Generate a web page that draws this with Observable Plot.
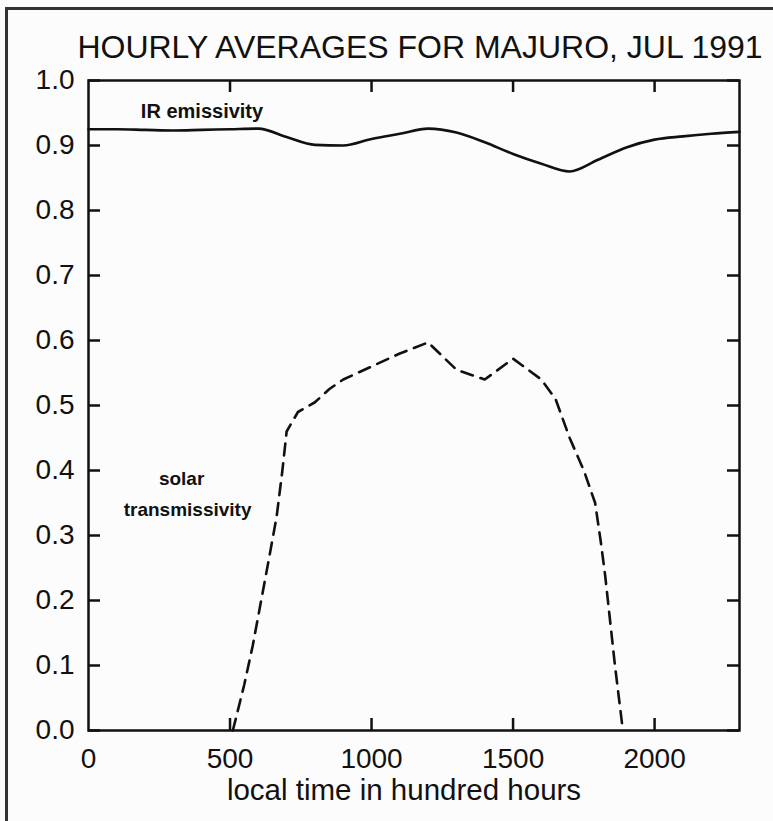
<!DOCTYPE html>
<html><head><meta charset="utf-8">
<script src="https://cdn.jsdelivr.net/npm/d3@7"></script>
<script src="https://cdn.jsdelivr.net/npm/@observablehq/plot@0.6"></script>
<style>
body{margin:0;background:#fcfcfc;}
#wrap{position:relative;width:773px;height:821px;overflow:hidden;}
#box{position:absolute;left:5px;top:7px;width:800px;height:900px;border-left:3px solid #333;border-top:3px solid #333;}
#chart{position:absolute;left:0;top:0;}
</style></head><body>
<div id="wrap"><div id="box"></div><div id="chart"></div></div>
<script>
const titleText = "HOURLY AVERAGES FOR MAJURO, JUL 1991";
const xLabelText = "local time in hundred hours";

// IR emissivity, hourly averages
const irTimes  = [0,100,200,300,400,500,600,700,800,900,1000,1100,1200,1300,1400,1500,1600,1700,1800,1900,2000,2100,2200,2300];
const irValues = [0.925,0.925,0.924,0.923,0.924,0.925,0.926,0.913,0.901,0.900,0.910,0.918,0.926,0.920,0.905,0.887,0.872,0.860,0.878,0.897,0.909,0.914,0.918,0.921];

// solar transmissivity
const solarTimes  = [510,550,580,610,640,665,685,700,740,800,850,900,1000,1100,1200,1300,1400,1500,1600,1650,1700,1750,1790,1810,1825,1840,1860,1888];
const solarValues = [0.0,0.07,0.13,0.20,0.27,0.33,0.40,0.46,0.49,0.505,0.525,0.54,0.56,0.58,0.597,0.555,0.54,0.572,0.54,0.51,0.45,0.40,0.35,0.29,0.24,0.18,0.10,0.0];

const xTickValues = [0,500,1000,1500,2000];
const xInnerTicks = [500,1000,1500,2000];
const yTickValues = [0,0.1,0.2,0.3,0.4,0.5,0.6,0.7,0.8,0.9,1.0];

const ir = irTimes.map((t,i)=>({t, v: irValues[i]}));
const solar = solarTimes.map((t,i)=>({t, v: solarValues[i]}));

const W=773, H=821, mL=88, mR=34, mT=80, mB=91;
const fw = W-mL-mR, fh = H-mT-mB;
const ink = "#111";

const chart = Plot.plot({
  width: W, height: H,
  marginLeft: mL, marginRight: mR, marginTop: mT, marginBottom: mB,
  style: {background: "transparent", fontFamily: "'Liberation Sans', Arial, sans-serif", color: ink},
  x: {domain: [0, 2300]},
  y: {domain: [0, 1]},
  marks: [
    Plot.frame({stroke: ink, strokeWidth: 2.5}),
    Plot.tickY(yTickValues, {y: d=>d, insetRight: fw-12, stroke: ink, strokeWidth: 2.5}),
    Plot.tickY(yTickValues, {y: d=>d, insetLeft: fw-12, stroke: ink, strokeWidth: 2.5}),
    Plot.tickX(xInnerTicks, {x: d=>d, insetBottom: fh-12, stroke: ink, strokeWidth: 2.5}),
    Plot.tickX(xInnerTicks, {x: d=>d, insetTop: fh-12, stroke: ink, strokeWidth: 2.5}),
    Plot.axisY(yTickValues, {tickSize: 0, tickPadding: 14, tickFormat: d3.format(".1f"), fontSize: 28, label: null}),
    Plot.axisX(xTickValues, {tickSize: 0, tickPadding: 18, tickFormat: d=>String(d), fontSize: 28, label: null}),
    Plot.line(ir, {x: "t", y: "v", stroke: ink, strokeWidth: 2.6, curve: "monotone-x"}),
    Plot.line(solar, {x: "t", y: "v", stroke: ink, strokeWidth: 2.6, strokeDasharray: "12,8"}),
    Plot.text(["IR emissivity"], {text: d=>d, x: 185, y: 0.952, textAnchor: "start", fontSize: 20, fontWeight: "bold", fill: ink}),
    Plot.text(["solar"], {text: d=>d, x: 329, y: 0.387, fontSize: 19, fontWeight: "bold", fill: ink}),
    Plot.text(["transmissivity"], {text: d=>d, x: 350, y: 0.340, fontSize: 19, fontWeight: "bold", fill: ink}),
    Plot.text([titleText], {text: d=>d, frameAnchor: "top", lineAnchor: "bottom", dy: -23, dx: 6, fontSize: 32, fill: ink}),
    Plot.text([xLabelText], {text: d=>d, frameAnchor: "bottom", lineAnchor: "bottom", dy: 69, dx: -10, fontSize: 29.5, fill: ink})
  ]
});
document.getElementById("chart").appendChild(chart);
</script>
</body></html>
